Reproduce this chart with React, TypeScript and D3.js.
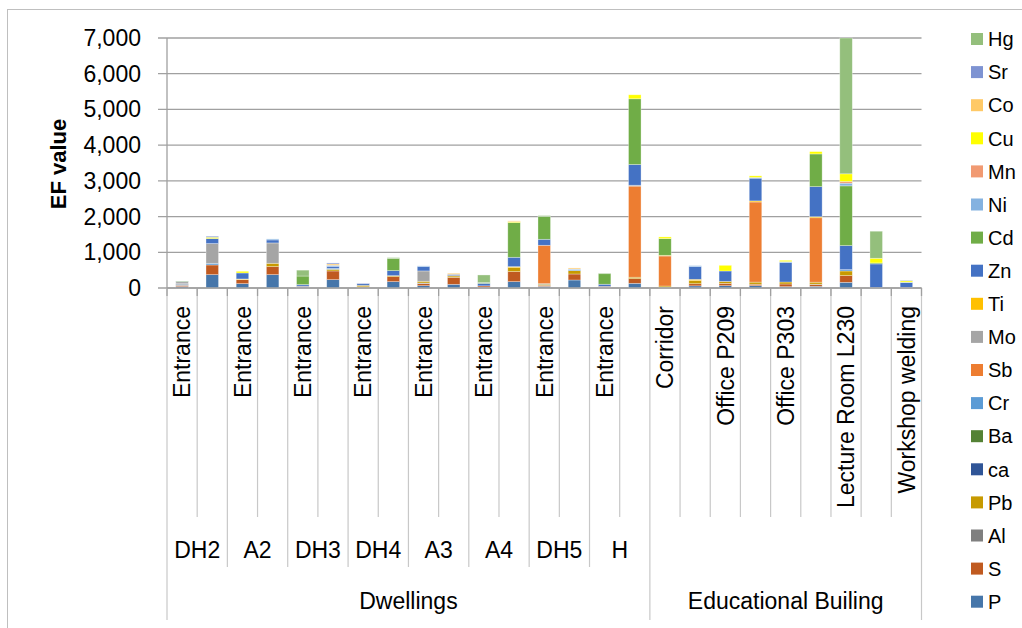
import React from "react";
import * as d3 from "d3";

const WIDTH = 1022;
const HEIGHT = 628;
const FONT = "'Liberation Sans', Arial, sans-serif";

// category axis, three levels
const categories = [
  "Entrance", "", "Entrance", "", "Entrance", "", "Entrance", "",
  "Entrance", "", "Entrance", "", "Entrance", "", "Entrance", "",
  "Corridor", "", "Office P209", "", "Office P303", "", "Lecture Room L230", "", "Workshop welding",
];
const sites = [
  "DH2", "DH2", "A2", "A2", "DH3", "DH3", "DH4", "DH4",
  "A3", "A3", "A4", "A4", "DH5", "DH5", "H", "H",
  "", "", "", "", "", "", "", "", "",
];
const buildings = [
  ...Array(16).fill("Dwellings"),
  ...Array(9).fill("Educational Builing"),
];

// stack order, bottom to top
const elements = ["P", "S", "Al", "Pb", "ca", "Ba", "Cr", "Sb", "Mo", "Ti", "Zn", "Cd", "Ni", "Mn", "Cu", "Co", "Sr", "Hg"];
const colors = [
  "#4676AA", "#C05A20", "#7F7F7F", "#C79A00", "#2F5597", "#548235", "#5B9BD5", "#ED7D31", "#A5A5A5",
  "#FFC000", "#4472C4", "#70AD47", "#84B2E0", "#F19A72", "#FFFF00", "#FFC966", "#7E93D2", "#94BF7C",
];

const P = [40, 374, 122, 374, 25, 234, 20, 178, 65, 103, 25, 178, 45, 224, 20, 131, 20, 60, 65, 65, 37, 47, 159, 10, 19];
const S = [30, 271, 112, 224, 20, 243, 15, 140, 56, 196, 35, 280, 30, 168, 25, 131, 0, 60, 65, 40, 75, 50, 187, 0, 0];
const Al = [15, 0, 0, 0, 0, 0, 0, 0, 20, 0, 0, 0, 0, 0, 0, 0, 0, 0, 0, 0, 0, 10, 0, 0, 0];
const Pb = [10, 0, 10, 94, 0, 47, 40, 28, 47, 37, 0, 112, 30, 94, 0, 40, 35, 90, 56, 60, 56, 56, 131, 0, 0];
const ca = [15, 0, 0, 0, 10, 0, 0, 0, 0, 20, 0, 0, 0, 0, 0, 0, 0, 0, 0, 0, 0, 0, 0, 0, 0];
const Ba = [0, 0, 0, 0, 0, 0, 0, 0, 0, 0, 0, 0, 0, 0, 0, 0, 0, 0, 0, 0, 0, 0, 0, 0, 0];
const Cr = [10, 47, 0, 0, 0, 28, 0, 0, 0, 0, 0, 0, 16, 25, 0, 0, 0, 0, 0, 0, 0, 0, 37, 0, 0];
const Sb = [0, 0, 0, 0, 0, 0, 0, 0, 0, 0, 0, 0, 1075, 0, 0, 2551, 841, 0, 0, 2243, 0, 1804, 0, 0, 0];
const Mo = [55, 552, 0, 570, 0, 0, 0, 0, 290, 0, 0, 0, 0, 0, 0, 25, 0, 0, 0, 0, 0, 0, 0, 0, 0];
const Ti = [0, 0, 9, 0, 0, 0, 0, 0, 0, 0, 0, 28, 0, 0, 0, 0, 20, 33, 0, 31, 0, 30, 0, 0, 0];
const Zn = [10, 140, 168, 84, 40, 56, 45, 140, 122, 27, 70, 262, 168, 0, 60, 579, 0, 355, 290, 636, 542, 841, 673, 664, 131];
const Cd = [10, 0, 0, 0, 240, 0, 0, 337, 0, 0, 20, 972, 636, 0, 295, 1841, 467, 0, 0, 0, 0, 916, 1673, 28, 0];
const Ni = [0, 0, 0, 28, 0, 28, 0, 0, 19, 0, 0, 0, 0, 22, 0, 0, 0, 28, 0, 20, 28, 0, 75, 0, 14];
const Mn = [0, 0, 0, 0, 0, 0, 0, 0, 0, 0, 0, 0, 0, 0, 0, 0, 0, 0, 0, 0, 0, 0, 47, 0, 0];
const Cu = [0, 37, 47, 0, 0, 0, 0, 0, 0, 0, 0, 24, 0, 0, 0, 112, 47, 0, 159, 45, 37, 65, 215, 131, 37];
const Co = [0, 0, 0, 0, 0, 37, 0, 0, 0, 28, 0, 23, 0, 28, 0, 0, 0, 0, 0, 0, 0, 0, 0, 0, 0];
const Sr = [0, 28, 0, 0, 0, 28, 15, 0, 0, 0, 0, 0, 0, 0, 0, 0, 0, 0, 0, 0, 0, 0, 0, 0, 14];
const Hg = [0, 0, 0, 0, 165, 0, 0, 28, 0, 0, 215, 0, 28, 0, 20, 0, 0, 0, 0, 0, 0, 0, 3803, 757, 0];

const seriesValues = [P, S, Al, Pb, ca, Ba, Cr, Sb, Mo, Ti, Zn, Cd, Ni, Mn, Cu, Co, Sr, Hg];
const yTicks = [0, 1000, 2000, 3000, 4000, 5000, 6000, 7000];

const margin = {left: 167, right: 921.5, top: 38, bottom: 288};

// runs of equal labels -> [start, end) spans
function runs(arr: string[]) {
  const out: {name: string; start: number; end: number}[] = [];
  arr.forEach((v, i) => {
    const last = out[out.length - 1];
    if (last && last.name === v) last.end = i + 1;
    else out.push({name: v, start: i, end: i + 1});
  });
  return out;
}

export default function App() {
  const n = categories.length;
  const x = d3
    .scaleBand<number>()
    .domain(d3.range(n))
    .range([margin.left, margin.right])
    .paddingInner(0.585)
    .paddingOuter(0.2925);
  const y = d3.scaleLinear().domain([0, 7000]).range([margin.bottom, margin.top]);
  const step = x.step();
  const bx = (k: number) => margin.left + k * step;
  const cx = (i: number) => (x(i) as number) + x.bandwidth() / 2;

  const rows = categories.map((_, i) => {
    const r: any = {};
    elements.forEach((e, k) => (r[e] = seriesValues[k][i]));
    return r;
  });
  const stacked = d3.stack<any>().keys(elements)(rows);

  // depth of divider line at boundary k
  const depth = (k: number) => {
    if (k === 0 || k === n) return 620;
    if (buildings[k] !== buildings[k - 1]) return 620;
    if (sites[k] !== sites[k - 1]) return 567;
    return 517;
  };

  const legendTop = 39;
  const legendStep = 33.1;
  const legendItems = elements.map((e, k) => ({e, c: colors[k]})).reverse();

  return (
    <svg
      width={WIDTH}
      height={HEIGHT}
      style={{position: "absolute", left: 0, top: 0, background: "#fff"}}
      fontFamily={FONT}
    >
      <rect x={7.5} y={9.5} width={1040} height={660} fill="#fff" stroke="#BFBFBF" />

      {/* gridlines + y ticks */}
      {yTicks.map((t) => (
        <g key={t}>
          <line x1={margin.left - 9} x2={margin.right} y1={y(t)} y2={y(t)} stroke="#A0A0A0" strokeWidth={1.3} />
          <text x={141} y={y(t)} dy="0.35em" textAnchor="end" fontSize={23} fill="#000">
            {d3.format(",")(t)}
          </text>
        </g>
      ))}

      {/* y axis line */}
      <line x1={margin.left} x2={margin.left} y1={margin.top} y2={margin.bottom} stroke="#A0A0A0" strokeWidth={1.3} />

      {/* category dividers */}
      {d3.range(n + 1).map((k) => (
        <g key={k}>
          <line x1={bx(k)} x2={bx(k)} y1={margin.bottom} y2={depth(k)} stroke="#C8C8C8" strokeWidth={1.2} />
          <line x1={bx(k)} x2={bx(k)} y1={margin.bottom} y2={margin.bottom + 8} stroke="#A0A0A0" strokeWidth={1.3} />
        </g>
      ))}

      {/* bars */}
      {stacked.map((layer, k) => (
        <g key={elements[k]} fill={colors[k]}>
          {layer.map((d, i) =>
            d[1] - d[0] > 0 ? (
              <rect
                key={i}
                x={x(i)}
                width={x.bandwidth()}
                y={y(d[1])}
                height={y(d[0]) - y(d[1])}
                stroke="rgba(255,255,255,0.45)"
                strokeWidth={0.7}
              />
            ) : null
          )}
        </g>
      ))}

      {/* x axis line */}
      <line x1={margin.left} x2={margin.right} y1={margin.bottom} y2={margin.bottom} stroke="#A0A0A0" strokeWidth={1.3} />

      {/* level 1 labels */}
      {categories.map((c, i) =>
        c ? (
          <text
            key={i}
            transform={`translate(${cx(i)},306) rotate(-90)`}
            dy="0.36em"
            textAnchor="end"
            fontSize={23}
            fill="#000"
          >
            {c}
          </text>
        ) : null
      )}

      {/* level 2 labels */}
      {runs(sites).map((r) =>
        r.name ? (
          <text key={r.start} x={(bx(r.start) + bx(r.end)) / 2} y={558} textAnchor="middle" fontSize={23} fill="#000">
            {r.name}
          </text>
        ) : null
      )}

      {/* level 3 labels */}
      {runs(buildings).map((r) => (
        <text key={r.start} x={(bx(r.start) + bx(r.end)) / 2} y={609} textAnchor="middle" fontSize={23} fill="#000">
          {r.name}
        </text>
      ))}

      {/* y title */}
      <text transform="translate(58,164) rotate(-90)" dy="0.36em" textAnchor="middle" fontSize={22} fontWeight="bold" fill="#000">
        EF value
      </text>

      {/* legend */}
      {legendItems.map((it, j) => (
        <g key={it.e} transform={`translate(971,${legendTop + j * legendStep})`}>
          <rect x={0} y={-6} width={12} height={12} fill={it.c} />
          <text x={17} y={0} dy="0.36em" fontSize={20} fill="#000">
            {it.e}
          </text>
        </g>
      ))}
    </svg>
  );
}
